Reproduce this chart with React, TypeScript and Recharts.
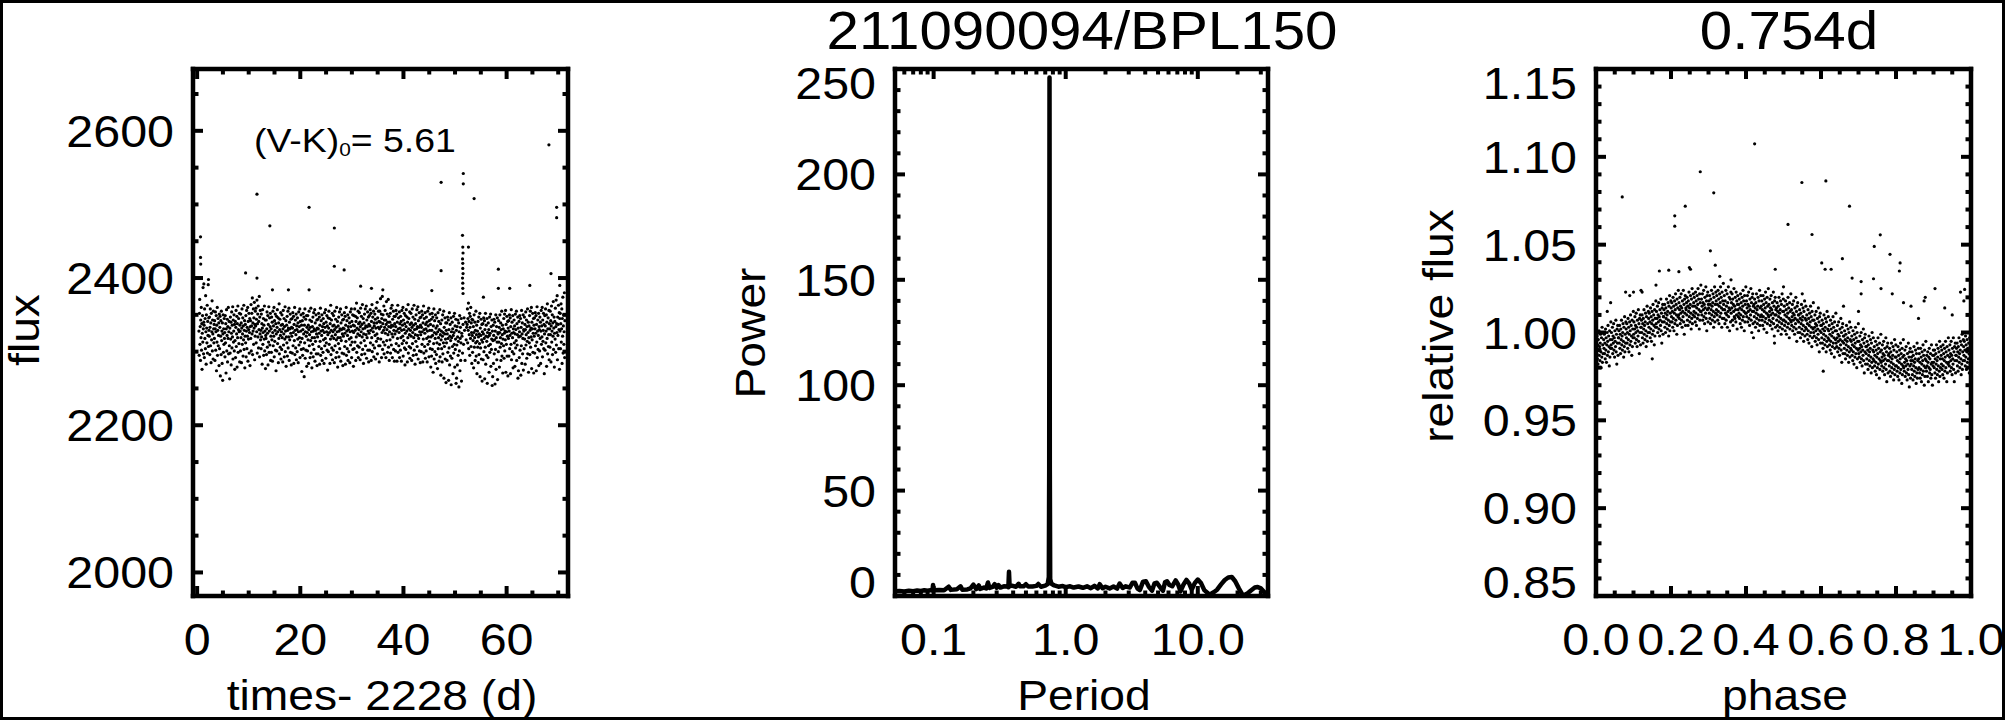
import React from "react";
import { ScatterChart, Scatter, ComposedChart, Line, XAxis, YAxis } from "recharts";

const FONT = '"Liberation Sans", Arial, Helvetica, sans-serif';
const WIDTH = 2005;
const HEIGHT = 720;
const PLOT_TOP = 69;
const PLOT_BOTTOM = 596;

// ---------- panel 1: light curve (flux vs time) ----------
// flux offsets from 2200, one row per day; K2 cadence is uniform so samples are spread over the day
const LC_BASE = 2200;
const lcDailyFlux = [
  "128 95 152 171 110 134 88 143 119 160 102 138 76 125 149 113 187 131 97 140",
  "136 92 158 118 145 104 176 127 83 150 132 112 163 98 141 122 191 107 146 129",
  "121 147 96 133 158 108 139 85 152 116 127 169 101 143 124 90 155 131 112 137",
  "118 142 88 131 154 102 127 149 74 136 113 160 95 129 145 108 122 139 81 151",
  "104 133 148 67 121 142 96 155 115 128 84 139 61 124 150 99 131 110 145 118",
  "126 93 149 112 138 71 131 157 101 122 144 86 134 118 160 97 127 141 108 63",
  "132 98 147 117 140 82 125 154 105 136 120 161 90 143 113 128 150 101 137 76",
  "115 141 92 133 156 107 124 148 79 138 119 162 99 130 145 111 127 152 86 136",
  "128 101 151 119 139 85 132 158 110 124 146 94 135 116 163 103 129 142 78 121",
  "137 112 149 93 128 156 104 133 121 160 87 141 117 130 152 98 126 145 81 134",
  "142 118 164 101 135 152 124 173 96 139 128 158 110 146 132 167 89 137 121 155",
  "135 159 112 144 127 170 98 138 151 120 162 105 141 130 175 93 147 124 156 116",
  "129 104 151 120 138 83 132 157 110 126 145 95 136 117 162 101 128 143 77 122",
  "118 143 96 131 154 106 125 149 82 137 113 161 99 128 146 109 134 152 88 121",
  "131 99 147 116 140 87 126 155 108 135 121 160 93 142 114 129 151 102 138 74",
  "124 148 101 133 157 111 127 146 85 139 118 165 97 130 144 106 122 153 90 136",
  "127 103 150 119 137 86 131 156 109 124 145 93 134 117 161 100 128 142 80 120",
  "136 112 148 94 129 155 105 132 120 159 88 140 116 131 151 99 125 144 82 133",
  "121 145 98 132 153 108 126 148 84 137 115 160 96 129 143 105 123 151 89 135",
  "130 100 146 117 139 85 127 154 109 134 119 158 92 141 113 128 150 103 136 73",
  "118 142 95 130 152 104 124 147 66 136 112 158 91 127 144 102 121 149 80 133",
  "126 101 149 116 136 84 130 155 108 123 143 92 133 115 159 98 127 141 78 119",
  "134 110 147 93 128 153 103 131 119 157 87 139 114 129 150 97 124 143 81 132",
  "120 144 97 131 152 107 125 147 83 136 114 159 95 128 142 104 122 150 88 134",
  "129 99 145 116 138 84 126 153 108 133 118 157 91 140 112 127 149 102 135 75",
  "123 146 100 132 155 110 126 145 84 138 117 163 96 129 143 105 121 152 89 135",
  "127 102 149 118 136 85 130 155 108 123 144 92 133 116 160 99 127 141 79 119",
  "135 111 147 93 128 154 104 131 119 158 87 139 115 130 150 98 124 143 81 132",
  "121 144 97 131 153 107 125 148 83 136 114 160 95 128 142 104 122 150 88 134",
  "130 100 146 117 139 85 127 154 109 134 119 158 92 141 113 128 150 103 136 80",
  "126 149 104 135 158 113 129 148 88 141 120 166 99 132 146 108 124 155 92 138",
  "130 106 153 122 140 89 134 159 112 127 148 96 137 120 164 103 131 145 84 124",
  "139 115 151 97 132 158 108 135 123 162 91 143 119 134 154 102 128 147 86 137",
  "125 149 102 135 157 112 129 152 88 141 119 164 100 132 147 109 127 155 93 139",
  "135 105 151 122 144 90 132 159 114 139 124 167 97 146 118 133 155 108 141 86",
  "131 155 108 140 172 117 134 151 92 145 126 175 103 138 150 113 129 162 97 143",
  "133 109 156 125 143 92 137 168 115 130 151 99 140 123 171 106 134 148 88 127",
  "140 116 152 98 133 159 109 136 124 163 92 144 120 135 155 103 129 148 87 138",
  "124 148 101 134 156 111 128 151 87 140 118 163 99 131 146 108 126 154 92 138",
  "132 102 148 119 141 87 129 156 111 136 121 160 94 143 115 130 152 105 138 82",
  "125 149 103 134 157 112 128 147 86 140 119 164 98 131 145 107 123 154 91 137",
  "129 105 152 121 139 88 133 158 111 126 147 95 136 119 163 102 130 144 83 123",
  "138 114 150 96 131 157 107 134 122 161 90 142 118 133 153 101 127 146 85 136",
  "123 147 100 133 155 110 127 150 86 139 117 162 98 130 145 107 125 153 91 137",
  "131 101 147 118 140 86 128 155 110 135 120 159 93 142 114 129 151 104 137 79",
  "120 144 94 129 152 103 122 147 72 135 111 158 90 126 142 100 118 150 84 132",
  "124 96 146 112 135 77 127 153 104 119 141 87 130 110 157 93 123 138 68 116",
  "128 104 143 86 121 150 97 126 112 155 64 133 107 124 146 90 117 139 58 129",
  "112 139 88 124 147 99 118 143 61 130 105 153 82 121 137 94 115 146 55 127",
  "119 91 140 107 131 70 122 148 98 126 110 152 79 135 103 117 144 57 129 64",
  "109 134 82 120 143 95 114 139 52 127 101 149 74 118 133 88 112 145 60 125",
  "121 98 137 110 146 129 88 140 116 133",
  "137 158 112 145 129 166 104 141 123 152 95 133 148 118 160 107 139 126 84 144",
  "122 99 143 115 134 78 126 150 106 119 140 88 129 112 155 94 123 136 70 114",
  "128 106 141 85 120 147 96 124 111 152 66 132 105 122 144 90 116 137 60 127",
  "113 138 89 124 146 100 118 142 63 130 106 152 83 121 136 95 114 145 57 126",
  "120 92 139 108 130 72 122 147 99 125 110 151 80 134 103 117 143 54 128 66",
  "115 136 84 122 144 97 116 140 56 128 103 150 76 119 134 89 113 146 62 126",
  "124 100 142 113 133 79 126 150 106 119 139 88 130 111 155 94 123 136 71 117",
  "131 108 145 91 125 151 101 128 116 156 72 137 110 127 148 94 121 141 67 132",
  "118 142 94 128 150 104 122 146 70 134 110 157 89 125 140 100 119 149 78 131",
  "126 97 143 112 135 80 124 151 105 130 115 155 88 138 109 123 147 64 132 74",
  "120 141 92 127 149 102 121 145 68 133 108 156 84 124 139 97 118 150 75 130",
  "128 104 147 117 137 83 130 154 109 123 143 91 134 114 158 97 126 140 72 119",
  "135 112 149 96 129 155 106 132 120 160 77 140 116 131 152 99 125 145 71 136",
  "121 146 98 131 153 108 125 149 74 137 113 161 92 128 143 103 122 152 81 134",
  "130 101 147 118 140 84 128 156 110 135 120 160 93 143 114 129 152 104 137 70",
  "124 149 102 135 158 112 128 150 80 140 118 165 97 131 146 107 123 156 89 138",
  "131 106 155 123 142 86 135 162 113 128 150 96 139 121 168 103 132 147 79 125",
  "141 117 159 99 134 170 109 138 126 176 89 147 122 137 163 104 130 153 76 145",
  "128 152 104 138 165 113 131 158 84 145 121 174 98 135 150 110 127 180 92 142",
];
// isolated high points [time, flux]
const lcOutliers: [number, number][] = [
  [0.66, 2456], [0.66, 2428], [0.7, 2419], [1.3, 2392], [2.2, 2398], [9.4, 2407],
  [11.6, 2514], [11.6, 2400], [14.1, 2471], [14.6, 2384], [17.7, 2384], [21.7, 2496],
  [21.7, 2384], [26.6, 2468], [26.6, 2416], [28.5, 2411], [31.7, 2389], [33.8, 2386],
  [36.0, 2384], [45.5, 2383], [47.3, 2530], [47.3, 2410], [51.6, 2542], [51.6, 2528],
  [51.45, 2458], [51.5, 2442], [51.55, 2434], [51.45, 2426], [51.5, 2420], [51.5, 2413],
  [51.55, 2406], [51.45, 2400], [51.5, 2393], [51.5, 2386], [51.55, 2379], [52.6, 2442],
  [53.7, 2508], [55.5, 2374], [58.4, 2412], [58.4, 2386], [60.6, 2386], [64.5, 2390],
  [68.2, 2581], [68.6, 2406], [69.7, 2496], [69.7, 2482], [70.3, 2390],
];
const lcTicksX = [0, 5, 10, 15, 20, 25, 30, 35, 40, 45, 50, 55, 60, 65, 70];
const lcMajorX = [0, 20, 40, 60];
const lcTicksY = [2000, 2050, 2100, 2150, 2200, 2250, 2300, 2350, 2400, 2450, 2500, 2550, 2600, 2650];
const lcMajorY = [2000, 2200, 2400, 2600];

// ---------- panel 2: periodogram ----------
const periodPower: [number, number][] = [
  [0.051, 2.2], [0.055, 2.4], [0.06, 2.1], [0.065, 2.5], [0.07, 2.3], [0.075, 2.6],
  [0.08, 2.4], [0.085, 2.7], [0.09, 2.5], [0.095, 2.8], [0.098, 2.6], [0.099, 5.2],
  [0.1, 2.7], [0.11, 2.9], [0.12, 2.7], [0.13, 4.4], [0.135, 2.9], [0.15, 3.2],
  [0.16, 4.6], [0.165, 3.0], [0.18, 3.1], [0.19, 3.6], [0.2, 5.4], [0.21, 3.3],
  [0.22, 5.0], [0.225, 3.4], [0.24, 4.0], [0.25, 3.6], [0.258, 6.4], [0.265, 3.8],
  [0.28, 4.3], [0.29, 5.6], [0.3, 3.9], [0.31, 5.2], [0.32, 4.0], [0.34, 4.6],
  [0.36, 4.5], [0.368, 4.2], [0.372, 11.5], [0.376, 4.6], [0.39, 4.9], [0.42, 4.4],
  [0.44, 5.8], [0.45, 4.6], [0.48, 4.6], [0.5, 5.6], [0.52, 4.5], [0.56, 4.5],
  [0.6, 4.8], [0.62, 5.7], [0.65, 4.4], [0.7, 4.9], [0.73, 5.6], [0.745, 9],
  [0.75, 60], [0.754, 246], [0.758, 60], [0.763, 8], [0.78, 5.8], [0.82, 5.0],
  [0.88, 4.4], [0.95, 4.7], [1.0, 4.2], [1.08, 4.6], [1.15, 4.0], [1.25, 4.5],
  [1.35, 3.9], [1.45, 4.6], [1.55, 3.7], [1.65, 4.8], [1.75, 3.6], [1.81, 5.6],
  [1.9, 3.7], [2.0, 4.4], [2.15, 3.6], [2.3, 4.5], [2.45, 3.5], [2.56, 5.9],
  [2.7, 3.8], [2.85, 4.6], [3.06, 4.0], [3.2, 6.3], [3.34, 6.3], [3.5, 3.5],
  [3.64, 2.8], [3.85, 6.8], [4.05, 7.0], [4.25, 4.5], [4.5, 2.5], [4.7, 6.0],
  [4.9, 6.3], [5.2, 4.0], [5.45, 2.5], [5.65, 6.5], [5.85, 7.0], [6.1, 5.2],
  [6.4, 4.6], [6.8, 7.4], [7.1, 5.5], [7.4, 2.2], [7.8, 5.5], [8.2, 7.6],
  [8.6, 6.0], [9.0, 3.0], [9.5, 6.2], [10.0, 7.8], [10.6, 6.0], [11.2, 2.8],
  [12.3, 0.6], [13.2, 1.8], [14.0, 3.0], [15.0, 5.5], [16.0, 7.6], [17.0, 8.8],
  [18.1, 9.0], [19.2, 7.0], [20.5, 3.5], [22.0, 0.2], [23.5, 1.0], [25.0, 2.4],
  [27.0, 4.0], [28.4, 4.3], [30.0, 3.6], [32.0, 1.8], [34.0, 0.4],
];
const pgTicksX = [
  0.06, 0.07, 0.08, 0.09, 0.1, 0.2, 0.3, 0.4, 0.5, 0.6, 0.7, 0.8, 0.9,
  1, 2, 3, 4, 5, 6, 7, 8, 9, 10, 20, 30,
];
const pgMajorX = [0.1, 1, 10];
const pgTicksY = [0, 10, 20, 30, 40, 50, 60, 70, 80, 90, 100, 110, 120, 130, 140, 150, 160, 170, 180, 190, 200, 210, 220, 230, 240, 250];
const pgMajorY = [0, 50, 100, 150, 200, 250];

// ---------- panel 3: phase-folded light curve ----------
// relative flux codes per 0.02 phase bin: flux = 0.950 + code / 1000
const phaseBinFlux = [
  "41 45 38 48 35 43 32 46 40 51 37 42 34 44 49 39 30 47 36 53 33 43 38 50",
  "46 41 49 38 44 35 52 40 47 33 43 50 37 45 54 39 48 42 31 51 36 46 41 56",
  "43 50 41 46 53 38 48 44 55 40 47 36 51 45 42 57 39 49 32 52 44 54 37 47",
  "47 51 44 54 41 49 38 52 46 57 43 48 40 50 55 45 36 53 42 59 39 49 44 56",
  "52 47 55 44 50 41 58 46 53 39 49 56 43 51 60 45 54 48 37 57 42 52 47 62",
  "49 56 47 52 59 44 54 50 61 46 53 42 57 51 48 63 45 55 38 58 50 60 43 53",
  "53 57 50 60 47 55 44 58 52 63 49 54 46 56 61 51 42 59 48 65 45 55 50 62",
  "58 53 61 50 56 47 64 52 59 45 55 62 49 57 66 51 60 54 43 63 48 58 53 68",
  "55 62 53 58 65 50 60 56 67 52 59 48 63 57 54 69 51 61 44 64 56 66 49 59",
  "59 63 56 66 53 61 50 64 58 69 55 60 52 62 67 57 48 65 54 71 51 61 56 68",
  "64 59 67 56 62 53 70 58 65 51 61 68 55 63 72 57 66 60 49 69 54 64 59 74",
  "60 67 58 63 70 55 65 61 72 57 64 53 68 62 59 74 56 66 49 69 61 71 54 64",
  "63 67 60 70 57 65 54 68 62 73 59 64 56 66 71 61 52 69 58 75 55 65 60 72",
  "67 62 70 59 65 56 73 61 68 54 64 71 58 66 75 60 69 63 52 72 57 67 62 77",
  "62 69 60 65 72 57 67 63 74 59 66 55 70 64 61 76 58 68 51 71 63 73 56 66",
  "64 68 61 71 58 66 55 69 63 74 60 65 57 67 72 62 53 70 59 76 56 66 61 73",
  "68 63 71 60 66 57 74 62 69 55 65 72 59 67 76 61 70 64 53 73 58 68 63 78",
  "66 58 71 63 55 68 61 74 57 65 60 72 53 67 62 76 59 64 70 51 63 69 56 73",
  "61 67 64 72 57 69 54 66 62 75 59 65 58 70 63 56 73 60 68 52 66 71 63 59",
  "66 61 69 58 64 55 72 60 67 53 63 70 57 65 74 59 68 62 51 71 56 66 61 76",
  "61 68 59 64 71 56 66 62 73 58 65 54 69 63 60 75 57 67 50 70 62 72 55 65",
  "62 66 59 69 56 64 53 67 61 72 58 63 55 65 70 60 51 68 57 74 54 64 59 71",
  "65 60 68 57 63 54 71 59 66 52 62 69 56 64 73 58 67 61 50 70 55 65 60 75",
  "59 66 57 62 69 54 64 60 71 56 63 52 67 61 58 73 55 65 48 68 60 70 53 63",
  "60 64 57 67 54 62 51 65 59 70 56 61 53 63 68 58 49 66 55 72 52 62 57 69",
  "62 57 65 54 60 51 68 56 63 49 59 66 53 61 70 55 64 58 47 67 52 62 57 72",
  "56 63 54 59 66 51 61 57 68 53 60 49 64 58 55 70 52 62 45 65 57 67 50 60",
  "56 60 53 63 50 58 47 61 55 66 52 57 49 59 64 54 45 62 51 68 48 58 53 65",
  "57 52 60 49 55 46 63 51 58 44 54 61 48 56 65 50 59 53 42 62 47 57 52 67",
  "50 57 48 53 60 45 55 51 62 47 54 43 58 52 49 64 46 56 39 59 51 61 44 54",
  "50 54 47 57 44 52 41 55 49 60 46 51 43 53 58 48 39 56 45 62 42 52 47 59",
  "51 46 54 43 49 40 57 45 52 38 48 55 42 50 59 44 53 47 36 56 41 51 46 61",
  "44 51 42 47 54 39 49 45 56 41 48 37 52 46 43 58 40 50 33 53 45 55 38 48",
  "44 48 41 51 38 46 35 49 43 54 40 45 37 47 52 42 33 50 39 56 36 46 41 53",
  "45 40 48 37 43 34 51 39 46 32 42 49 36 44 53 38 47 41 30 50 35 45 40 55",
  "38 45 36 41 48 33 43 39 50 35 42 31 46 40 37 52 34 44 27 47 39 49 32 42",
  "38 42 35 45 32 40 29 43 37 48 34 39 31 41 46 36 27 44 33 50 30 40 35 47",
  "39 34 42 31 37 28 45 33 40 26 36 43 30 38 47 32 41 35 24 44 29 39 34 49",
  "33 40 31 36 43 28 38 34 45 30 37 26 41 35 32 47 29 39 22 42 34 44 27 37",
  "34 38 31 41 28 36 25 39 33 44 30 35 27 37 42 32 23 40 29 46 26 36 31 43",
  "36 31 39 28 34 25 42 30 37 23 33 40 27 35 44 29 38 32 21 41 26 36 31 46",
  "30 37 28 33 40 25 35 31 42 27 34 23 38 32 29 44 26 36 19 39 31 41 24 34",
  "32 36 29 39 26 34 23 37 31 42 28 33 25 35 40 30 21 38 27 44 24 34 29 41",
  "35 30 38 27 33 24 41 29 36 22 32 39 26 34 43 28 37 31 20 40 25 35 30 45",
  "34 28 37 31 25 39 33 22 36 30 41 27 35 29 38 24 32 43 26 33 20 37 31 40",
  "33 37 30 40 27 35 24 38 32 43 29 34 26 36 41 31 22 39 28 45 25 35 30 42",
  "37 32 40 29 35 26 43 31 38 24 34 41 28 36 45 30 39 33 22 42 27 37 32 47",
  "33 40 31 36 43 28 38 34 45 30 37 26 41 35 32 47 29 39 22 42 34 44 27 37",
  "37 41 34 44 31 39 28 42 36 47 33 38 30 40 45 35 26 43 32 49 29 39 34 46",
  "42 37 45 34 40 31 48 36 43 29 39 46 33 41 50 35 44 38 27 47 32 42 37 52",
];
// scattered points away from the main band [phase, relative flux]
const phaseOutliers: [number, number][] = [
  [0.03, 1.012], [0.039, 1.017], [0.07, 1.0772], [0.079, 1.023], [0.09, 1.021], [0.1, 1.023],
  [0.12, 1.024], [0.123, 1.023], [0.15, 0.985], [0.16, 1.027], [0.169, 1.035], [0.194, 1.0355],
  [0.21, 1.0664], [0.21, 1.0605], [0.221, 1.0346], [0.238, 1.0719], [0.249, 1.037], [0.252, 1.036],
  [0.278, 1.0915], [0.305, 1.0465], [0.314, 1.0795], [0.318, 1.0383], [0.33, 1.032], [0.36, 1.03],
  [0.42, 0.997], [0.423, 1.1074], [0.476, 0.994], [0.478, 1.036], [0.5, 1.026], [0.512, 1.0615],
  [0.549, 1.0854], [0.55, 1.022], [0.576, 1.0558], [0.602, 1.0396], [0.606, 0.978], [0.611, 1.036],
  [0.613, 1.0863], [0.627, 1.036], [0.657, 1.042], [0.66, 1.015], [0.676, 1.0719], [0.683, 1.031],
  [0.7, 1.012], [0.707, 1.029], [0.707, 1.022], [0.74, 1.0306], [0.742, 1.049], [0.758, 1.0556],
  [0.76, 1.025], [0.784, 1.0445], [0.79, 1.022], [0.809, 1.035], [0.811, 1.0396], [0.82, 1.017],
  [0.84, 1.015], [0.86, 1.008], [0.875, 1.018], [0.878, 1.02], [0.904, 1.025], [0.93, 1.014],
  [0.95, 1.01], [0.972, 1.023], [0.981, 1.018], [0.983, 1.0245],
];
const phTicksX = [0, 0.05, 0.1, 0.15, 0.2, 0.25, 0.3, 0.35, 0.4, 0.45, 0.5, 0.55, 0.6, 0.65, 0.7, 0.75, 0.8, 0.85, 0.9, 0.95, 1];
const phMajorX = [0, 0.2, 0.4, 0.6, 0.8, 1];
const phTicksY = [
  0.85, 0.86, 0.87, 0.88, 0.89, 0.9, 0.91, 0.92, 0.93, 0.94, 0.95, 0.96, 0.97, 0.98, 0.99, 1,
  1.01, 1.02, 1.03, 1.04, 1.05, 1.06, 1.07, 1.08, 1.09, 1.1, 1.11, 1.12, 1.13, 1.14, 1.15,
];
const phMajorY = [0.85, 0.9, 0.95, 1, 1.05, 1.1, 1.15];

// ---------- build series ----------
const lcPoints = [
  ...lcDailyFlux.flatMap((row, day) => {
    const vals = row.split(" ").map(Number);
    return vals.map((v, i) => ({ t: day + 0.35 + i / vals.length, f: LC_BASE + v }));
  }),
  ...lcOutliers.map(([t, f]) => ({ t, f })),
];
const pgData = periodPower.map(([period, power]) => ({ period, power }));
const phPoints = [
  ...phaseBinFlux.flatMap((row, bin) => {
    const vals = row.split(" ").map(Number);
    return vals.map((v, i) => ({ ph: bin * 0.02 + ((i + 0.5) * 0.02) / vals.length, f: (950 + v) / 1000 }));
  }),
  ...phaseOutliers.map(([ph, f]) => ({ ph, f })),
];

// ---------- IDL-style box axes ----------
type Side = "bottom" | "top" | "left" | "right";
const MAJOR_LEN = 10;
const MINOR_LEN = 5.5;
const TICK_FONT = 44;

function makeTick(side: Side, majors: number[], fmt?: (v: number) => string) {
  return (props: any) => {
    const { x, y, payload } = props;
    const v = payload.value;
    const major = majors.some((m) => Math.abs(m - v) < 1e-9);
    const len = major ? MAJOR_LEN : MINOR_LEN;
    let x2 = x;
    let y2 = y;
    if (side === "bottom") y2 = y - len;
    if (side === "top") y2 = y + len;
    if (side === "left") x2 = x + len;
    if (side === "right") x2 = x - len;
    let label = null;
    if (major && fmt && side === "bottom") {
      label = (
        <text transform={`translate(${x},${y + 59}) scale(1.1,1)`} textAnchor="middle" fontFamily={FONT} fontSize={TICK_FONT} fill="#000">
          {fmt(v)}
        </text>
      );
    }
    if (major && fmt && side === "left") {
      const ly = Math.min(Math.max(y, PLOT_TOP + 14), PLOT_BOTTOM - 14) + 16;
      label = (
        <text transform={`translate(${x - 19},${ly}) scale(1.1,1)`} textAnchor="end" fontFamily={FONT} fontSize={TICK_FONT} fill="#000">
          {fmt(v)}
        </text>
      );
    }
    return (
      <g>
        <line x1={x} y1={y} x2={x2} y2={y2} stroke="#000" strokeWidth={4} />
        {label}
      </g>
    );
  };
}

const AXIS_LINE = { stroke: "#000", strokeWidth: 4.5, strokeLinecap: "square" as const };

// axes need a 1px band, otherwise recharts skips drawing them
function frameAxes(o: {
  xKey: string;
  yKey: string;
  xDomain: [number, number];
  yDomain: [number, number];
  xTicks: number[];
  yTicks: number[];
  xMajor: number[];
  yMajor: number[];
  fmtX: (v: number) => string;
  fmtY: (v: number) => string;
  xScale?: "linear" | "log";
}) {
  const common = { type: "number" as const, allowDataOverflow: true, interval: 0 as const, tickSize: 0, tickMargin: 0, tickLine: false, axisLine: AXIS_LINE };
  return [
    <XAxis key="xb" xAxisId="b" dataKey={o.xKey} scale={o.xScale ?? "linear"} domain={o.xDomain} ticks={o.xTicks} height={1} tick={makeTick("bottom", o.xMajor, o.fmtX)} {...common} />,
    <XAxis key="xt" xAxisId="t" orientation="top" dataKey={o.xKey} scale={o.xScale ?? "linear"} domain={o.xDomain} ticks={o.xTicks} height={1} tick={makeTick("top", o.xMajor)} {...common} />,
    <YAxis key="yl" yAxisId="l" dataKey={o.yKey} domain={o.yDomain} ticks={o.yTicks} width={1} tick={makeTick("left", o.yMajor, o.fmtY)} {...common} />,
    <YAxis key="yr" yAxisId="r" orientation="right" dataKey={o.yKey} domain={o.yDomain} ticks={o.yTicks} width={1} tick={makeTick("right", o.yMajor)} {...common} />,
  ];
}

const margins = (left: number, right: number) => ({
  top: PLOT_TOP - 1,
  bottom: HEIGHT - PLOT_BOTTOM - 1,
  left: left - 1,
  right: WIDTH - right - 1,
});

const dot = (p: any) => <circle cx={p.cx} cy={p.cy} r={1.6} fill="#000" />;

const layer: React.CSSProperties = { position: "absolute", left: 0, top: 0 };

const TITLE_FONT = 53;
const LABEL_FONT = 42;

export default function App() {
  return (
    <div style={{ position: "relative", width: WIDTH, height: HEIGHT, background: "#fff", overflow: "hidden" }}>
      <style>{"body{margin:0}"}</style>

      <div style={layer}>
        <ScatterChart width={WIDTH} height={HEIGHT} margin={margins(193, 568)}>
          {frameAxes({
            xKey: "t",
            yKey: "f",
            xDomain: [-0.8, 71.9],
            yDomain: [1968, 2684],
            xTicks: lcTicksX,
            yTicks: lcTicksY,
            xMajor: lcMajorX,
            yMajor: lcMajorY,
            fmtX: (v) => String(v),
            fmtY: (v) => String(v),
          })}
          <Scatter xAxisId="b" yAxisId="l" data={lcPoints} shape={dot} isAnimationActive={false} />
        </ScatterChart>
      </div>

      <div style={layer}>
        <ComposedChart width={WIDTH} height={HEIGHT} data={pgData} margin={margins(895, 1268)}>
          {frameAxes({
            xKey: "period",
            yKey: "power",
            xDomain: [0.051, 34],
            yDomain: [0, 250],
            xTicks: pgTicksX,
            yTicks: pgTicksY,
            xMajor: pgMajorX,
            yMajor: pgMajorY,
            fmtX: (v) => (v < 1 ? String(v) : v.toFixed(1)),
            fmtY: (v) => String(v),
            xScale: "log",
          })}
          <Line xAxisId="b" yAxisId="l" dataKey="power" type="linear" dot={false} stroke="#000" strokeWidth={4.5} strokeLinejoin="round" isAnimationActive={false} />
        </ComposedChart>
      </div>

      <div style={layer}>
        <ScatterChart width={WIDTH} height={HEIGHT} margin={margins(1596, 1971)}>
          {frameAxes({
            xKey: "ph",
            yKey: "f",
            xDomain: [0, 1],
            yDomain: [0.85, 1.15],
            xTicks: phTicksX,
            yTicks: phTicksY,
            xMajor: phMajorX,
            yMajor: phMajorY,
            fmtX: (v) => v.toFixed(1),
            fmtY: (v) => v.toFixed(2),
          })}
          <Scatter xAxisId="b" yAxisId="l" data={phPoints} shape={dot} isAnimationActive={false} />
        </ScatterChart>
      </div>

      <svg width={WIDTH} height={HEIGHT} style={layer}>
        <rect x={1.5} y={1.5} width={WIDTH - 3} height={HEIGHT - 3} fill="none" stroke="#000" strokeWidth={3} />
        <g fontFamily={FONT} fill="#000">
          <text transform={`translate(1082,49) scale(1.1,1)`} textAnchor="middle" fontSize={TITLE_FONT}>211090094/BPL150</text>
          <text transform={`translate(1789,49) scale(1.1,1)`} textAnchor="middle" fontSize={TITLE_FONT}>0.754d</text>

          <text transform={`translate(382,710) scale(1.1,1)`} textAnchor="middle" fontSize={LABEL_FONT}>times- 2228 (d)</text>
          <text transform={`translate(1084,710) scale(1.1,1)`} textAnchor="middle" fontSize={LABEL_FONT}>Period</text>
          <text transform={`translate(1785,710) scale(1.1,1)`} textAnchor="middle" fontSize={LABEL_FONT}>phase</text>

          <text transform={`translate(39,330) rotate(-90) scale(1.1,1)`} textAnchor="middle" fontSize={LABEL_FONT}>flux</text>
          <text transform={`translate(765,333) rotate(-90) scale(1.1,1)`} textAnchor="middle" fontSize={LABEL_FONT}>Power</text>
          <text transform={`translate(1453,326) rotate(-90) scale(1.1,1)`} textAnchor="middle" fontSize={LABEL_FONT}>relative flux</text>

          <text transform={`translate(254,152) scale(1.1,1)`} fontSize={34}>
            (V-K)<tspan fontSize={19} dy={4}>0</tspan>
            <tspan dy={-4}>= 5.61</tspan>
          </text>
        </g>
      </svg>
    </div>
  );
}
